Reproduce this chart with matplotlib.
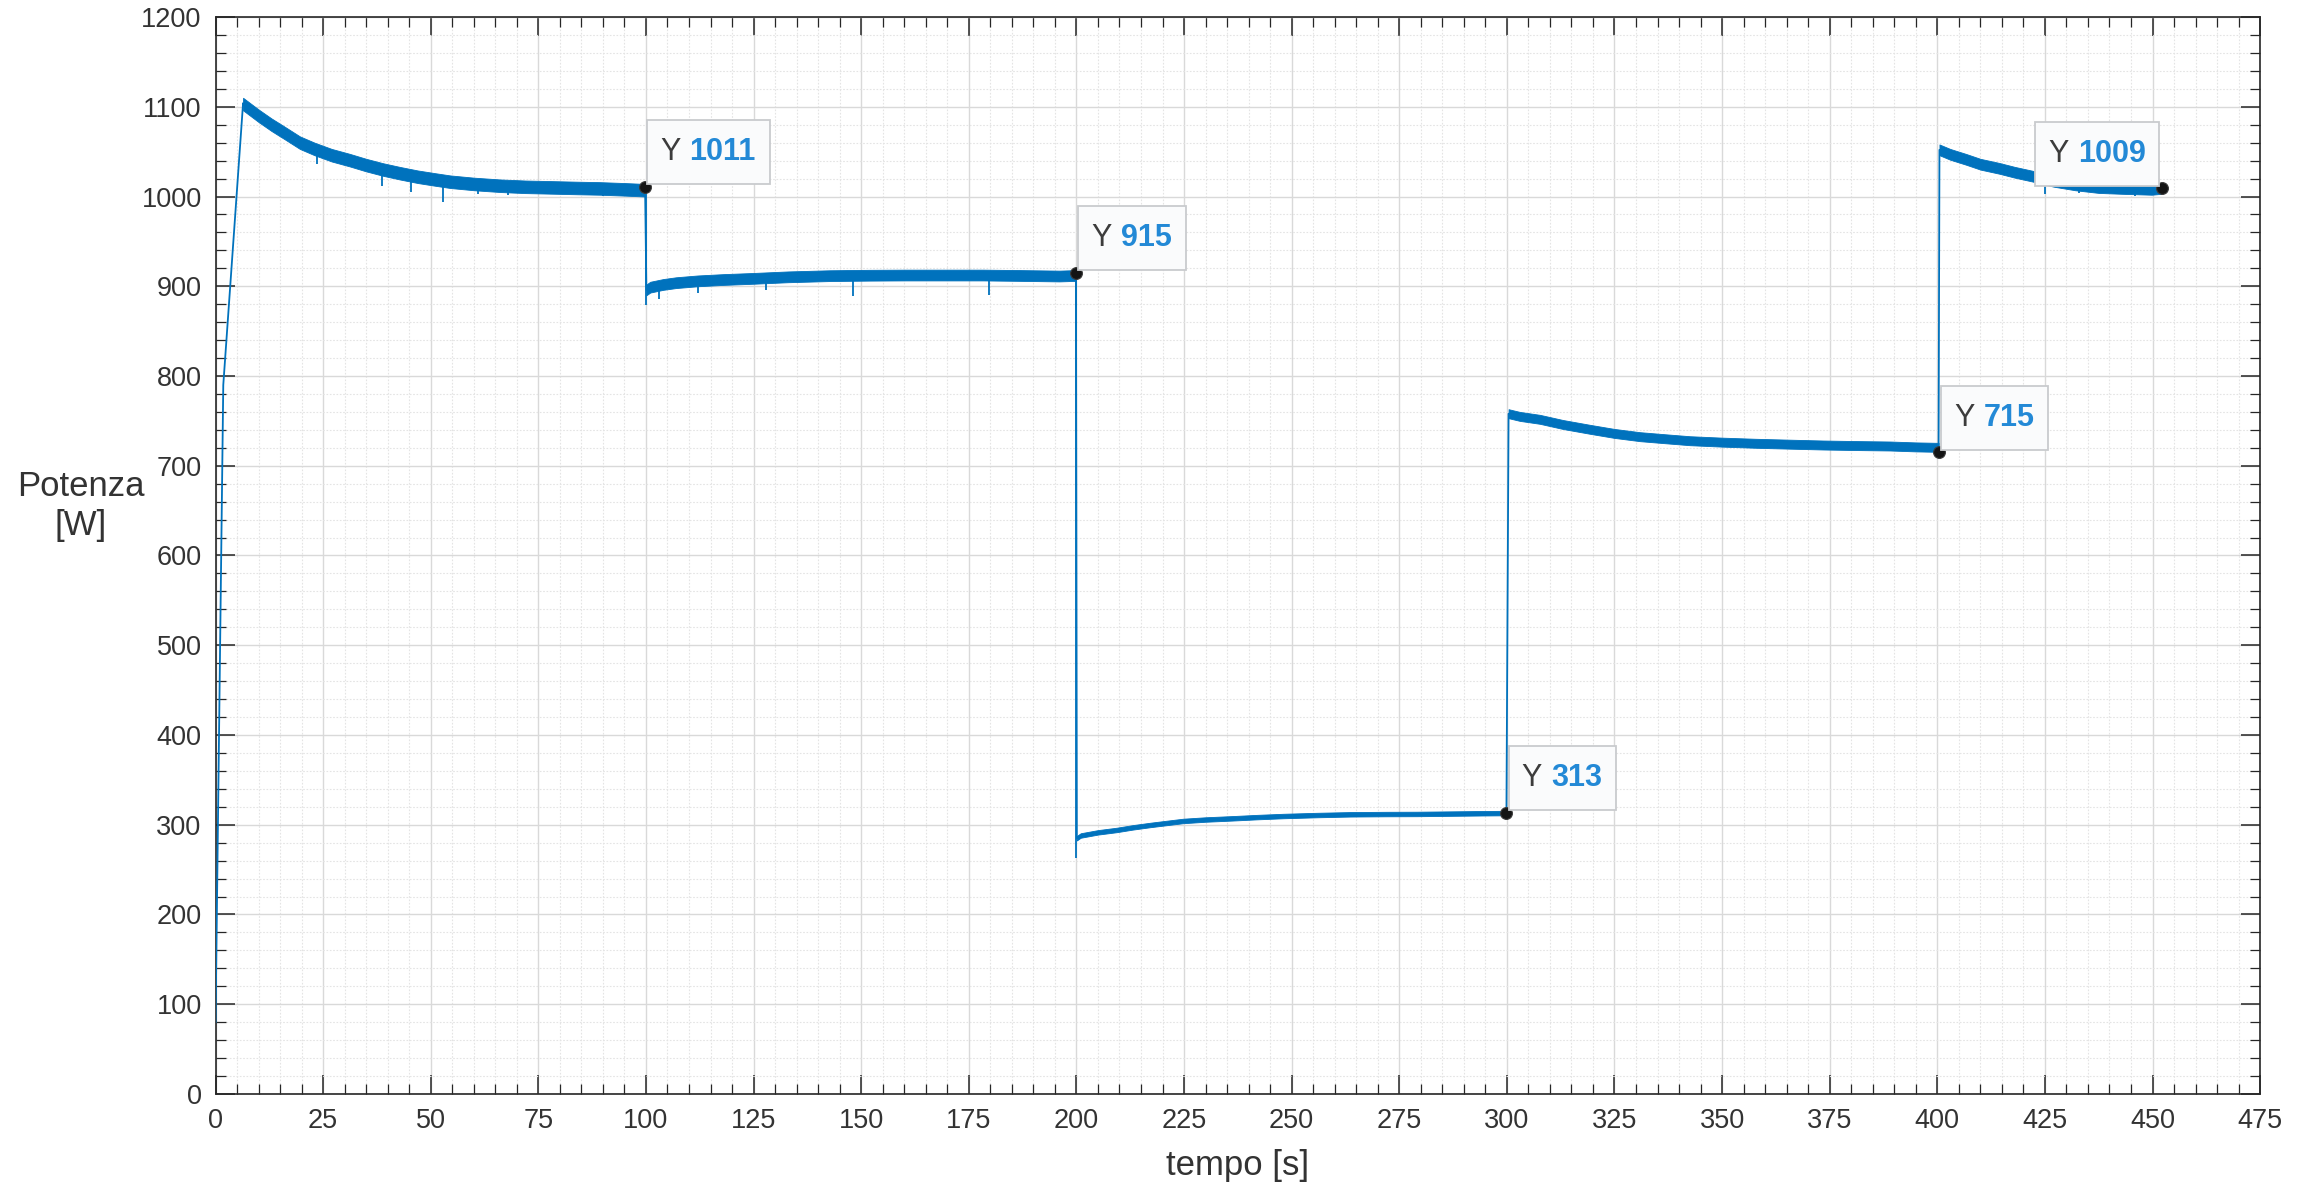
import numpy as np
import matplotlib
matplotlib.use("Agg")
import matplotlib.pyplot as plt
from matplotlib.ticker import MultipleLocator
from matplotlib.offsetbox import TextArea, HPacker, DrawingArea, AnnotationBbox

plt.rcParams['font.family'] = ['Liberation Sans', 'DejaVu Sans']

# ---------------------------------------------------------------------------
# Measured power [W] versus time [s], one list pair per load step
# ---------------------------------------------------------------------------
t_ramp = [0.0, 1.8, 6.4]
p_ramp = [80, 790, 1104]

t_step1 = [6.4, 10, 13, 16, 19.6, 23, 27, 31.2, 35, 39, 42.8, 47, 51, 54.5, 60, 66.1, 72, 77.7,
           84, 89.3, 95, 99.8]
p_step1 = [1103, 1090, 1080, 1071, 1060, 1053, 1046, 1040.5, 1035, 1030, 1026, 1022, 1019,
           1016.5, 1014, 1012, 1010.8, 1010.2, 1009.5, 1009, 1008, 1007]

t_step2 = [100.1, 101, 104, 107, 112, 118, 125, 133, 142.7, 152, 160.4, 170, 178.2, 187, 196, 199.9]
p_step2 = [896, 899, 902, 904, 906, 907.5, 908.8, 910.5, 911.8, 912.3, 912.5, 912.5, 912.5, 912,
           911.4, 912]

t_step3 = [200.1, 201, 205, 209.4, 213, 217.1, 221, 224.8, 230, 236.5, 242, 248.1, 256, 263.6, 272,
           279.1, 287, 294.5, 299.9]
p_step3 = [285, 288, 291.5, 294.2, 297, 299.7, 302, 304.2, 305.8, 307.2, 308.5, 309.7, 310.8, 311.6,
           311.9, 312, 312.4, 312.8, 313]

t_step4 = [300.4, 303, 307.7, 313, 319.3, 325, 330.9, 337, 342.5, 350, 358, 366, 373.5, 381, 389,
           395, 400.3]
p_step4 = [758, 755, 751.7, 746, 740.6, 736, 732.4, 730, 727.9, 726.3, 725, 724, 723.1, 722.5, 722,
           721, 720.5]

t_step5 = [400.5, 403, 406.7, 410, 414.4, 418, 422, 427, 432, 437.5, 443, 449.8, 452.1]
p_step5 = [1052, 1047, 1041.4, 1036, 1031.4, 1027, 1022.8, 1017, 1013, 1010, 1009, 1008, 1009]

# spread of the measurement noise on each step, half width [W]
noise_halfwidth = [7, 6, 2.5, 5, 6]

# isolated negative spikes: time, lowest value, value on the trace
spike_t = [23.5, 38.6, 45.5, 52.9, 61, 68, 90, 100.0, 103, 112, 128, 148, 179.7, 200.0,
           425, 433, 446]
spike_lo = [1036, 1012, 1005, 994, 1003, 1002, 1001, 879, 886, 893, 896, 889, 890, 263,
            1003, 1004, 1001]
spike_hi = [1049, 1031, 1022, 1016, 1014, 1011, 1009, 1007, 902, 906, 909, 911.8, 912.5, 912,
            1018, 1012, 1009]

# data tips
tip_t = [99.8, 200.0, 299.9, 400.4, 452.1]
tip_p = [1011, 915, 313, 715, 1009]
tip_side = ['right', 'right', 'right', 'right', 'left']

# x / y tick spacing
x_major, x_minor = 25, 5
y_major, y_minor = 100, 20

BLUE = '#0072BD'
TIP_BLUE = '#2389D6'
DARK = '#262626'

fig = plt.figure(figsize=(23.15, 11.9), dpi=100)
fig.patch.set_facecolor('white')
ax = fig.add_axes([0.0931, 0.0807, 0.8832, 0.905])

steps = [(t_step1, p_step1), (t_step2, p_step2), (t_step3, p_step3),
         (t_step4, p_step4), (t_step5, p_step5)]

t_all = np.concatenate([t_ramp] + [s[0] for s in steps])
p_all = np.concatenate([p_ramp] + [s[1] for s in steps])
ax.plot(t_all, p_all, color=BLUE, lw=1.3, zorder=3, solid_joinstyle='round')

for (ts, ps), hw in zip(steps, noise_halfwidth):
    ts = np.asarray(ts, float)
    ps = np.asarray(ps, float)
    ax.fill_between(ts, ps - hw, ps + hw, color=BLUE, lw=0.6, edgecolor=BLUE, zorder=3)

ax.vlines(spike_t, spike_lo, spike_hi, color=BLUE, lw=1.3, zorder=3)

# data tip markers and labels
ax.plot(tip_t, tip_p, 'o', ms=8.5, mfc='#141414', mec='#3a3a3a', mew=0.8, zorder=6)
for t, p, side in zip(tip_t, tip_p, tip_side):
    lab = TextArea('Y ', textprops=dict(color='#3C3C3C', fontsize=22))
    val = TextArea(f'{p}', textprops=dict(color=TIP_BLUE, fontsize=22, fontweight='bold'))
    strut = DrawingArea(0, 26)
    pack = HPacker(children=[strut, lab, val], align='center', pad=10, sep=0)
    if side == 'right':
        off, align = (1.5, 2.0), (0, 0)
    else:
        off, align = (-1.5, 2.0), (1, 0)
    ab = AnnotationBbox(pack, (t, p), xybox=off, xycoords='data', boxcoords='offset points',
                        box_alignment=align, pad=0, frameon=True,
                        bboxprops=dict(boxstyle='square,pad=0', fc='#FAFBFC', ec='#C9CBCE',
                                       lw=1.3),
                        zorder=7)
    ax.add_artist(ab)

# axes, ticks and grid
ax.set_xlim(0, 475)
ax.set_ylim(0, 1200)
ax.xaxis.set_major_locator(MultipleLocator(x_major))
ax.xaxis.set_minor_locator(MultipleLocator(x_minor))
ax.yaxis.set_major_locator(MultipleLocator(y_major))
ax.yaxis.set_minor_locator(MultipleLocator(y_minor))

ax.tick_params(which='both', direction='in', top=True, right=True, color=DARK,
               labelcolor='#333333')
ax.tick_params(which='major', length=14, width=1.1, labelsize=19.5, pad=10)
ax.tick_params(which='minor', length=7, width=0.9)

ax.set_axisbelow(True)
ax.grid(which='major', color='#D9D9D9', lw=1.0)
ax.grid(which='minor', color='#E4E4E4', lw=0.8, ls=(0, (1.5, 1.5)))

for sp in ax.spines.values():
    sp.set_color(DARK)
    sp.set_linewidth(1.2)

ax.set_xlabel('tempo [s]', fontsize=25, color='#333333', labelpad=11)
ax.set_ylabel('Potenza\n[W]', fontsize=25, color='#333333', rotation=0,
              ha='center', va='center', linespacing=1.2)
ax.yaxis.set_label_coords(-0.0658, 0.546)

fig.savefig('out.png', dpi=100, facecolor='white')
